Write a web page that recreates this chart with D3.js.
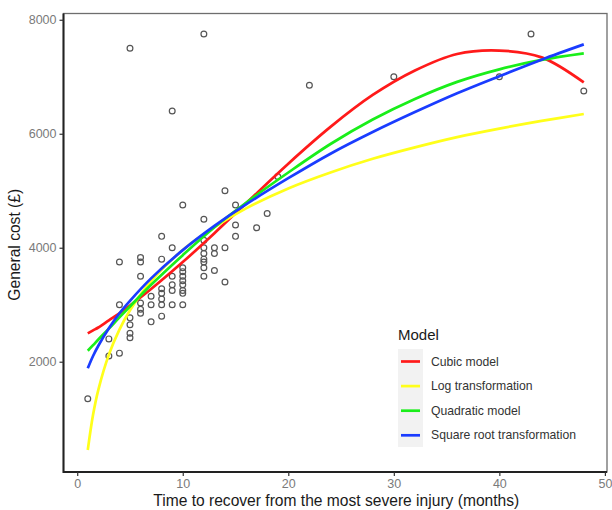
<!DOCTYPE html>
<html>
<head>
<meta charset="utf-8">
<script src="https://cdn.jsdelivr.net/npm/d3@7"></script>
<style>
  body { margin: 0; background: #fff; }
  text { font-family: "Liberation Sans", Arial, sans-serif; }
</style>
</head>
<body>
<div id="chart"></div>
<script>
// Observed data: months to recover vs general cost
const obsMonths = [
  1, 3, 3, 4, 4, 4, 5, 5, 5, 5, 5,
  6, 6, 6, 6, 6, 6, 7, 7, 7,
  8, 8, 8, 8, 8, 8, 8, 9, 9, 9, 9, 9, 9,
  10, 10, 10, 10, 10, 10, 10, 10, 10,
  12, 12, 12, 12, 12, 12, 12, 12, 12,
  13, 13, 13, 14, 14, 14, 15, 15, 15,
  17, 18, 19, 22, 30, 40, 43, 48
];
const obsCost = [
  1350, 2100, 2400, 2150, 3000, 3750, 2420, 2500, 2650, 2770, 7500,
  2850, 2920, 3030, 3500, 3750, 3830, 2700, 3000, 3150,
  2800, 3000, 3100, 3200, 3280, 3800, 4200, 3000, 3250, 3350, 3500, 4000, 6400,
  3000, 3200, 3250, 3350, 3420, 3500, 3580, 3650, 4750,
  3500, 3650, 3750, 3800, 3900, 4000, 4130, 4500, 7750,
  3600, 3900, 4000, 3400, 4000, 5000, 4200, 4400, 4750,
  4350, 4600, 5250, 6850, 7000, 7000, 7750, 6750
];

// Fitted curves
const fitMonths = [1, 1.5, 2, 3, 4, 5, 7, 10, 13, 16, 20, 24, 28, 32, 36, 40, 44, 48];
const cubicFit = [2498, 2550, 2600, 2726, 2850, 2986, 3275, 3748, 4255, 4780, 5475, 6120, 6680, 7110, 7400, 7460, 7340, 6900];
const logFit = [451, 1068, 1507, 2124, 2562, 2902, 3415, 3960, 4360, 4690, 5040, 5320, 5560, 5760, 5940, 6090, 6225, 6346];
const quadFit = [2193, 2290, 2390, 2580, 2780, 2970, 3350, 3870, 4360, 4790, 5320, 5820, 6250, 6610, 6910, 7130, 7295, 7410];
const sqrtFit = [1884, 2100, 2280, 2586, 2850, 3069, 3462, 3958, 4383, 4761, 5220, 5650, 6030, 6380, 6710, 7010, 7300, 7568];

const modelNames = ["Cubic model", "Log transformation", "Quadratic model", "Square root transformation"];
const modelColors = ["#ff1a1a", "#ffff1a", "#1aee1a", "#1a3cff"];
const modelValues = [cubicFit, logFit, quadFit, sqrtFit];

const xTicks = [0, 10, 20, 30, 40, 50];
const yTicks = [2000, 4000, 6000, 8000];

const W = 612, H = 510;
const panel = { left: 63.5, right: 607, top: 13.5, bottom: 472 };

const svg = d3.select("#chart")
  .append("svg")
  .attr("width", W)
  .attr("height", H);

const x = d3.scaleLinear()
  .domain([-1.3, 50.2])
  .range([panel.left, panel.right]);

const y = d3.scaleLinear()
  .domain([65, 8110])
  .range([panel.bottom, panel.top]);

// panel border: grey top/right, dark axis lines left/bottom
svg.append("rect")
  .attr("x", panel.left)
  .attr("y", panel.top)
  .attr("width", panel.right - panel.left)
  .attr("height", panel.bottom - panel.top)
  .attr("fill", "#fff")
  .attr("stroke", "#6e6e6e")
  .attr("stroke-width", 1.3);

// points
svg.append("g")
  .selectAll("circle")
  .data(obsMonths.map((m, i) => ({ m, c: obsCost[i] })))
  .enter()
  .append("circle")
  .attr("cx", d => x(d.m))
  .attr("cy", d => y(d.c))
  .attr("r", 2.9)
  .attr("fill", "none")
  .attr("stroke", "#555")
  .attr("stroke-width", 1.2);

// model lines
const line = d3.line()
  .x(d => x(d[0]))
  .y(d => y(d[1]))
  .curve(d3.curveCatmullRom.alpha(0.5));

modelValues.forEach((vals, k) => {
  svg.append("path")
    .datum(fitMonths.map((m, i) => [m, vals[i]]))
    .attr("fill", "none")
    .attr("stroke", modelColors[k])
    .attr("stroke-width", 2.7)
    .attr("d", line);
});

// axes
const xAxis = svg.append("g")
  .attr("transform", `translate(0, ${panel.bottom})`)
  .call(d3.axisBottom(x).tickValues(xTicks).tickSize(4).tickPadding(3));

const yAxis = svg.append("g")
  .attr("transform", `translate(${panel.left}, 0)`)
  .call(d3.axisLeft(y).tickValues(yTicks).tickFormat(d3.format("d")).tickSize(4).tickPadding(3));

[xAxis, yAxis].forEach(ax => {
  ax.select(".domain").attr("stroke", "#222").attr("stroke-width", 2);
  ax.selectAll(".tick line").attr("stroke", "#333").attr("stroke-width", 1.2);
  ax.selectAll(".tick text")
    .attr("fill", "#7a7a7a")
    .style("font-family", "'Liberation Sans', Arial, sans-serif")
    .style("font-size", "12.5px");
});
// clean square domain paths
xAxis.select(".domain").attr("d", `M${panel.left},0H${panel.right}`);
yAxis.select(".domain").attr("d", `M0,${panel.top}V${panel.bottom + 1}`);

// axis titles
svg.append("text")
  .attr("x", (panel.left + panel.right) / 2 + 1)
  .attr("y", 506)
  .attr("text-anchor", "middle")
  .style("font-size", "15.6px")
  .style("fill", "#1a1a1a")
  .text("Time to recover from the most severe injury (months)");

svg.append("text")
  .attr("transform", `translate(20, ${(panel.top + panel.bottom) / 2 + 2}) rotate(-90)`)
  .attr("text-anchor", "middle")
  .style("font-size", "15.6px")
  .style("fill", "#1a1a1a")
  .text("General cost (£)");

// legend
const legend = svg.append("g")
  .attr("transform", "translate(398, 349)");

legend.append("text")
  .attr("x", 0)
  .attr("y", -9)
  .style("font-size", "15px")
  .style("fill", "#1a1a1a")
  .text("Model");

legend.append("rect")
  .attr("x", 0)
  .attr("y", 0)
  .attr("width", 25)
  .attr("height", 98)
  .attr("fill", "#f2f2f2");

modelNames.forEach((name, i) => {
  const cy = 12.5 + i * 24.6;
  legend.append("line")
    .attr("x1", 3)
    .attr("x2", 22)
    .attr("y1", cy)
    .attr("y2", cy)
    .attr("stroke", modelColors[i])
    .attr("stroke-width", 2.7);
  legend.append("text")
    .attr("x", 33)
    .attr("y", cy + 4)
    .style("font-size", "12.2px")
    .style("fill", "#333")
    .text(name);
});
</script>
</body>
</html>
